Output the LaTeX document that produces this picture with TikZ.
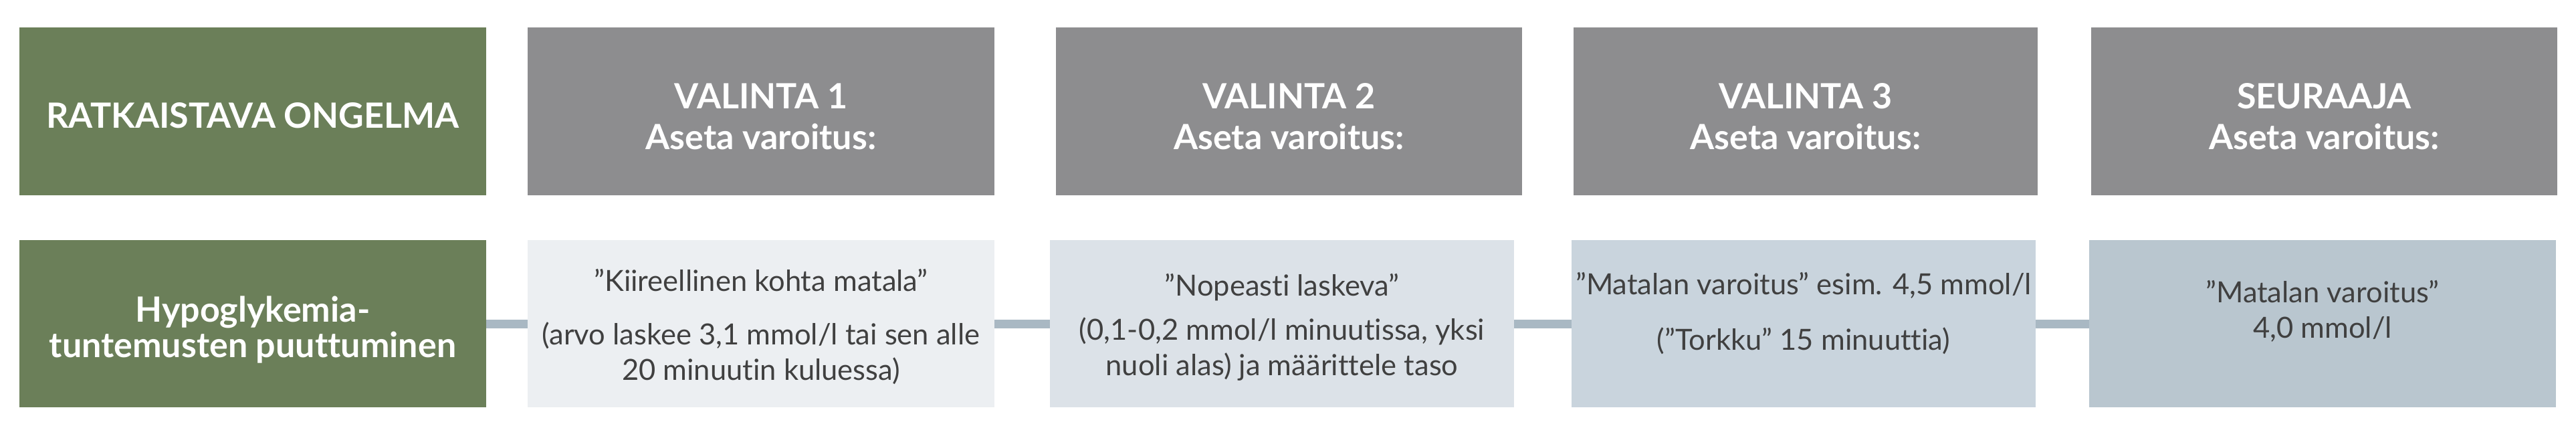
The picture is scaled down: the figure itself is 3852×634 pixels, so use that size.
\documentclass[tikz,border=0pt]{standalone}
\usepackage{fontspec}
\setmainfont{Lato}[Ligatures={NoCommon}]
\definecolor{probgreen}{HTML}{6B7F59}
\definecolor{hdrgray}{HTML}{8D8D8F}
\definecolor{opta}{HTML}{ECEFF2}
\definecolor{optb}{HTML}{DCE2E8}
\definecolor{optc}{HTML}{C9D4DD}
\definecolor{optd}{HTML}{B9C6CF}
\definecolor{linkc}{HTML}{A9B8C3}
\definecolor{txtc}{HTML}{404040}
\begin{document}
\begin{tikzpicture}[x=1pt,y=-1pt,
  box/.style={draw=none, inner sep=0pt, outer sep=0pt, align=center, anchor=center},
  hdr/.style={box, minimum height=251pt, text=white, font=\bfseries\fontsize{52}{61}\selectfont},
  low/.style={box, minimum height=250pt},
  probtxt/.style={low, fill=probgreen, text=white, font=\bfseries\fontsize{52}{53}\selectfont},
  opttxt/.style={low, text=txtc, font=\fontsize{43.5}{53}\selectfont},
  link/.style={draw=linkc, line width=13pt}]
\useasboundingbox (0,0) rectangle (3852,634);
% top row
\node[hdr, fill=probgreen, minimum width=698pt, text height=49pt, text depth=0pt] (h0) at (378,166.5) {RATKAISTAVA ONGELMA};
\node[hdr, fill=hdrgray, minimum width=698pt, text height=113pt, text depth=0pt] (h1) at (1138,166.5) {VALINTA 1\\Aseta varoitus:};
\node[hdr, fill=hdrgray, minimum width=697pt, text height=113pt, text depth=0pt] (h2) at (1927.5,166.5) {VALINTA 2\\Aseta varoitus:};
\node[hdr, fill=hdrgray, minimum width=694pt, text height=113pt, text depth=0pt] (h3) at (2700,166.5) {VALINTA 3\\Aseta varoitus:};
\node[hdr, fill=hdrgray, minimum width=697pt, text height=113pt, text depth=0pt] (h4) at (3475.5,166.5) {SEURAAJA\\Aseta varoitus:};
% bottom row
\node[probtxt, minimum width=698pt, text height=100pt, text depth=0pt] (g) at (378,484) {Hypoglykemia-\\tuntemusten puuttuminen};
\node[opttxt, fill=opta, minimum width=698pt, text height=168pt, text depth=0pt] (o1) at (1138,484) {”Kiireellinen kohta matala”\\[27pt](arvo laskee 3,1 mmol/l tai sen alle\\20 minuutin kuluessa)};
\node[opttxt, fill=optb, minimum width=694pt, text height=154pt, text depth=0pt] (o2) at (1917,484) {”Nopeasti laskeva”\\[13pt](0,1-0,2 mmol/l minuutissa, yksi\\nuoli alas) ja määrittele taso};
\node[opttxt, fill=optc, minimum width=694pt, text height=78pt, text depth=0pt] (o3) at (2697,484) {”Matalan varoitus” esim. 4,5 mmol/l\\[30pt](”Torkku” 15 minuuttia)};
\node[opttxt, fill=optd, minimum width=698pt, text height=42pt, text depth=0pt] (o4) at (3473,484) {”Matalan varoitus”\\4,0 mmol/l};
% connectors
\draw[link] (g.east) -- (o1.west);
\draw[link] (o1.east) -- (o2.west);
\draw[link] (o2.east) -- (o3.west);
\draw[link] (o3.east) -- (o4.west);
\end{tikzpicture}
\end{document}
